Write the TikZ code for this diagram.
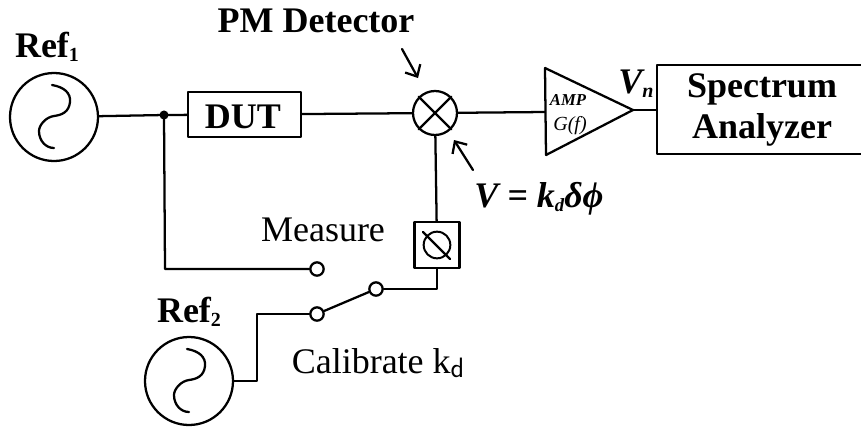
\documentclass[tikz,border=0pt]{standalone}
\usepackage{fontspec}
\setmainfont{Liberation Serif}
\usetikzlibrary{arrows.meta}
\tikzset{
    wire/.style={line width=1.7pt},
    pointer/.style={line width=1.7pt,-{Straight Barb[length=7pt,width=13pt]}},
    refsource/.style={draw,circle,line width=1.7pt,inner sep=0pt,minimum size=66pt},
    boxblock/.style={draw,rectangle,line width=1.7pt,inner sep=0pt},
    terminal/.style={draw,circle,line width=1.7pt,inner sep=0pt,minimum size=10pt,fill=white},
    biglabel/.style={font=\fontsize{27}{30}\selectfont\bfseries,inner sep=0pt,anchor=base},
    thinlabel/.style={font=\fontsize{27}{30}\selectfont,inner sep=0pt,anchor=base}
}
\newcommand{\sinewave}[1]{\draw[wire,shift={(#1.center)}] (-2,-32) .. controls (10,-30) and (17,-24) .. (16,-15) .. controls (15,-5) and (8,-2) .. (0,-1) .. controls (-8,0) and (-15,8) .. (-15,14) .. controls (-15,24) and (-8,31) .. (0,31);}
\newcommand{\lowsub}[2]{\raisebox{-3pt}{\fontsize{#1}{#1}\selectfont #2}}
\begin{document}
\begin{tikzpicture}
    [line cap=round,line join=round,x=0.75pt,y=-0.75pt]
\useasboundingbox (0,0) rectangle (861,430);
%sources and blocks
\node[refsource] (ref1) at (54,117) {};
\node[refsource] (ref2) at (189,381) {};
\sinewave{ref1}
\sinewave{ref2}
\node[boxblock,minimum width=84.75pt,minimum height=33.75pt] (dut) at (244.5,114.5) {};
\node[biglabel] (dutlabel) at (243,128) {DUT};
\node[boxblock,minimum width=154.5pt,minimum height=66.75pt] (analyzer) at (760,109.5) {};
\node[biglabel] (spectrum) at (762,97) {Spectrum};
\node[biglabel] (analyzerlabel) at (762,138) {Analyzer};
%mixer and phase shifter
\node[draw,circle,line width=1.7pt,inner sep=0pt,minimum size=33pt] (mixer) at (435,113) {};
\draw[wire] (mixer.north west) -- (mixer.south east);
\draw[wire] (mixer.north east) -- (mixer.south west);
\node[boxblock,minimum width=33.75pt,minimum height=34.5pt] (phase) at (437,245) {};
\node[draw,circle,line width=1.5pt,inner sep=0pt,minimum size=20pt] (dial) at (437,245) {};
\coordinate (slashtop) at (423,232);
\coordinate (slashend) at (450,259);
\draw[wire] (slashtop) -- (slashend);
%amplifier
\coordinate (amptop) at (545,68);
\coordinate (ampbot) at (546,155);
\coordinate (amptip) at (633,110);
\coordinate (ampin) at (545,112);
\draw[wire] (amptop) -- (amptip) -- (ampbot) -- cycle;
\node[font=\fontsize{12.5}{14}\selectfont\bfseries\itshape,inner sep=0pt,anchor=base] (amplabel) at (568,105) {AMP};
\node[font=\fontsize{15}{17}\selectfont\itshape,inner sep=0pt,anchor=base] (gainlabel) at (570,130) {G(f)};
%switch
\node[terminal] (measure) at (317,269) {};
\node[terminal] (swleft) at (317,314) {};
\node[terminal] (swright) at (376,289) {};
%wires
\fill (164,115) circle (3.4pt) coordinate (split);
\coordinate (splitdown) at (165,269);
\coordinate (ref2up) at (257,381);
\coordinate (swcorner) at (257,314);
\coordinate (phasecorner) at (437,289);
\draw[wire] (ref1) -- (split) -- (dut);
\draw[wire] (dut) -- (mixer);
\draw[wire] (mixer) -- (ampin);
\draw[wire] (amptip) -- (amptip -| analyzer.west);
\draw[wire] (split) -- (splitdown) -- (measure);
\draw[wire] (mixer) -- (phase);
\draw[wire] (phase) -- (phasecorner) -- (swright);
\draw[wire] (swright) -- (swleft);
\draw[wire] (swleft) -- (swcorner) -- (ref2up) -- (ref2);
%arrows and labels
\coordinate (pmstart) at (402,49);
\coordinate (pmtip) at (418,78);
\coordinate (vstart) at (473,170);
\coordinate (vtip) at (454,140);
\draw[pointer] (pmstart) -- (pmtip);
\draw[pointer] (vstart) -- (vtip);
\node[biglabel] (pmlabel) at (316,32) {PM Detector};
\node[biglabel] (ref1label) at (47,57) {Ref\lowsub{15}{1}};
\node[biglabel] (ref2label) at (189,322) {Ref\lowsub{15}{2}};
\node[biglabel,font=\fontsize{27}{30}\selectfont\bfseries\itshape] (vnlabel) at (636,93) {V\lowsub{15}{n}};
\node[biglabel,font=\fontsize{27}{30}\selectfont\bfseries\itshape] (vlabel) at (539,207) {V = k\lowsub{14}{d}δϕ};
\node[thinlabel] (measurelabel) at (323,241) {Measure};
\node[thinlabel] (calibratelabel) at (378,373) {Calibrate k\lowsub{21}{\sffamily d}};
 \end{tikzpicture}
\end{document}
